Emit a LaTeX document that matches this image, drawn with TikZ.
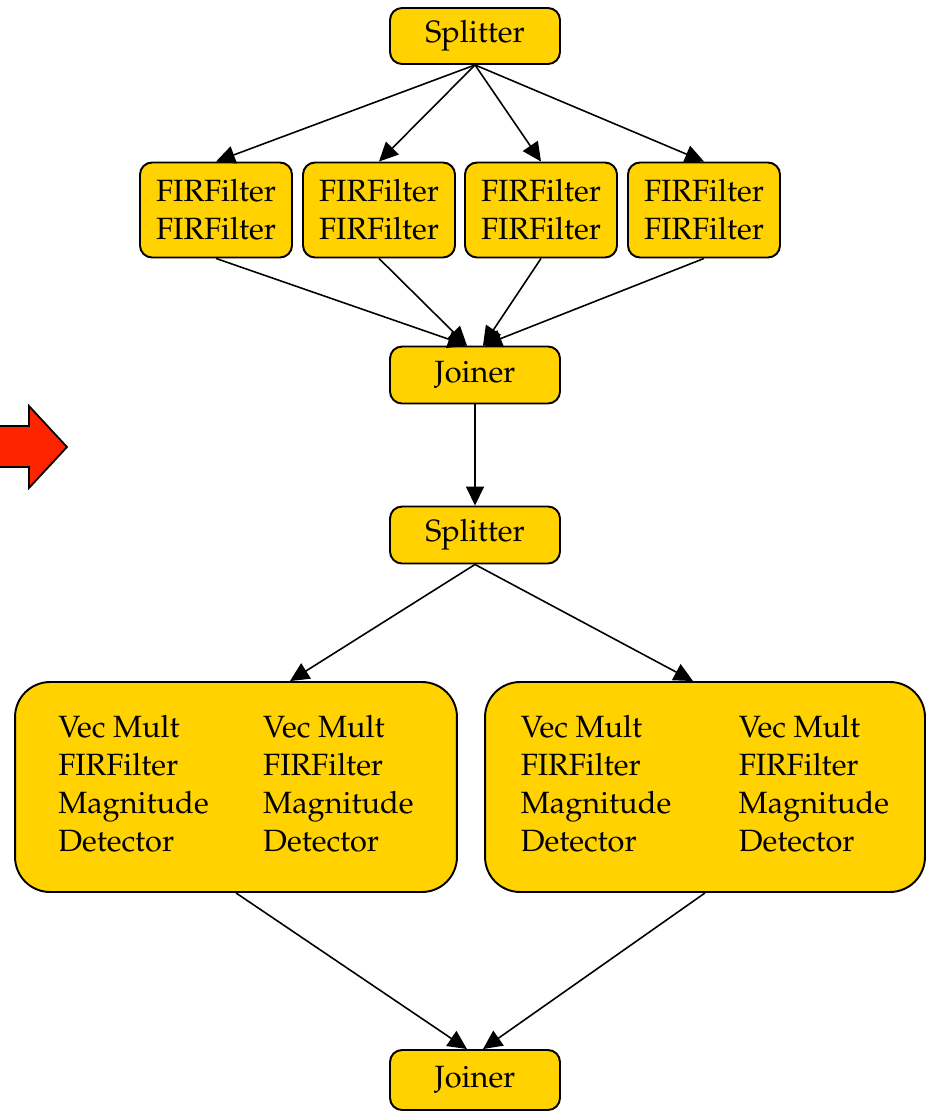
\documentclass[tikz,border=0pt]{standalone}
\usepackage[T1]{fontenc}
\usepackage{mathpazo}
\usetikzlibrary{arrows.meta}

\definecolor{boxgold}{RGB}{255,210,0}
\definecolor{arrowred}{RGB}{255,36,0}

\tikzset{
  filt/.style={draw, line width=1.1pt, fill=boxgold, rounded corners=0.24cm,
    align=center, inner sep=0pt, font=\fontsize{17.5}{21.6}\selectfont},
  bigfilt/.style={filt, rounded corners=0.7cm, minimum height=4.2cm},
  edge/.style={line width=0.9pt, -{Triangle[length=0.38cm,width=0.36cm]}}
}

\begin{document}
\begin{tikzpicture}[x=0.02cm, y=-0.02cm]
\useasboundingbox (0,0) rectangle (926,1112);
% red arrow at the left
\draw [line width=1pt, fill=arrowred] (-5,426) -- (29,426) -- (29,406) -- (67,447)
  -- (29,488) -- (29,467) -- (-5,467) -- cycle;
% first split-join
\node [filt, minimum width=3.4cm, minimum height=1.12cm] (split1) at (475,36) {Splitter};
\node [filt, minimum width=3.04cm, minimum height=1.9cm] (fir1) at (216,210) {FIRFilter\\FIRFilter};
\node [filt, minimum width=3.04cm, minimum height=1.9cm] (fir2) at (379,210) {FIRFilter\\FIRFilter};
\node [filt, minimum width=3.04cm, minimum height=1.9cm] (fir3) at (541,210) {FIRFilter\\FIRFilter};
\node [filt, minimum width=3.04cm, minimum height=1.9cm] (fir4) at (704,210) {FIRFilter\\FIRFilter};
\node [filt, minimum width=3.4cm, minimum height=1.14cm] (join1) at (475,375) {Joiner};
\foreach \f in {fir1,fir2,fir3,fir4}
  \draw [edge] (split1.south) -- (\f.north);
\draw [edge] (fir1.south) -- ([xshift=-0.16cm]join1.north);
\draw [edge] (fir2.south) -- ([xshift=-0.16cm]join1.north);
\draw [edge] (fir3.south) -- ([xshift=0.16cm]join1.north);
\draw [edge] (fir4.south) -- ([xshift=0.16cm]join1.north);
% second split-join
\node [filt, minimum width=3.4cm, minimum height=1.14cm] (split2) at (475,535) {Splitter};
\draw [edge] (join1.south) -- (split2.north);
\node [bigfilt, minimum width=8.84cm] (pipe1) at (236,787) {%
  \begin{tabular}{@{}p{4.1cm}@{}l@{}}
  Vec Mult & Vec Mult\\
  FIRFilter & FIRFilter\\
  Magnitude & Magnitude\\
  Detector & Detector
  \end{tabular}};
\node [bigfilt, minimum width=8.8cm] (pipe2) at (705,787) {%
  \begin{tabular}{@{}p{4.36cm}@{}l@{}}
  Vec Mult & Vec Mult\\
  FIRFilter & FIRFilter\\
  Magnitude & Magnitude\\
  Detector & Detector
  \end{tabular}};
\node [filt, minimum width=3.4cm, minimum height=1.2cm] (join2) at (475,1080) {Joiner};
\draw [edge] (split2.south) -- ([xshift=1.08cm]pipe1.north);
\draw [edge] (split2.south) -- ([xshift=-0.24cm]pipe2.north);
\draw [edge] (pipe1.south) -- ([xshift=-0.16cm]join2.north);
\draw [edge] (pipe2.south) -- ([xshift=0.16cm]join2.north);
\end{tikzpicture}
\end{document}
